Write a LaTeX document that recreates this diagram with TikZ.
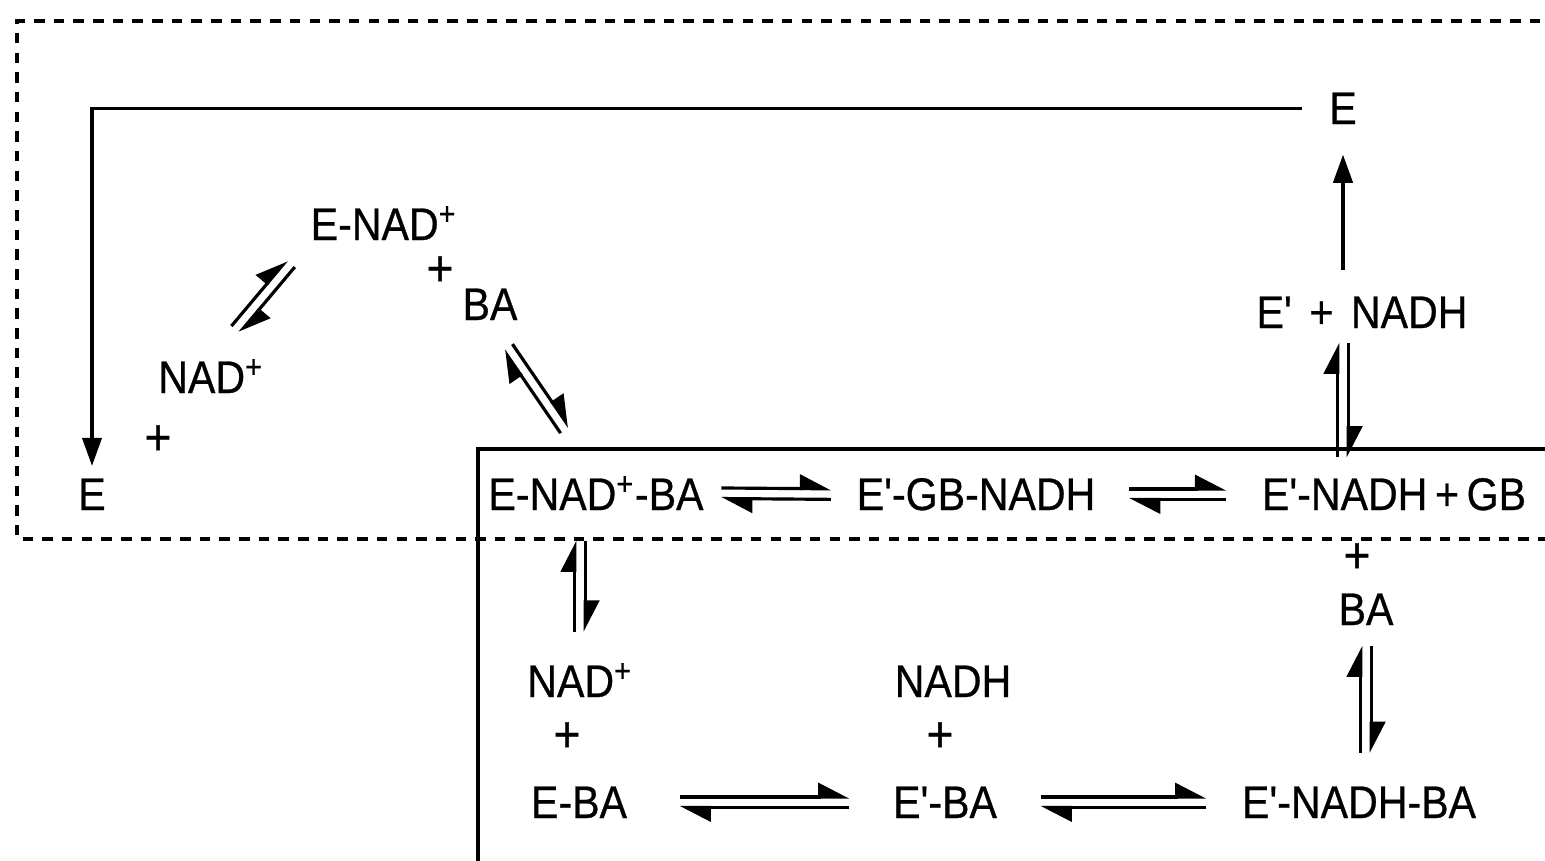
\documentclass[tikz,border=0pt]{standalone}
\usepackage{fontspec}
\setmainfont{Liberation Sans}[FakeStretch=0.9,FakeBold=0.6,Ligatures=TeXOff]
\usetikzlibrary{arrows.meta,calc}
\newcommand\eqsep{1.5pt}
\newcommand\eqm[4]{%
  \draw[harp,shorten <=#3,shorten >=#4]($(#1)!\eqsep!90:(#2)$)--($(#2)!\eqsep!-90:(#1)$);
  \draw[harp,shorten <=#4,shorten >=#3]($(#2)!\eqsep!90:(#1)$)--($(#1)!\eqsep!-90:(#2)$);}
\tikzset{
  chem/.style={inner sep=0pt,anchor=base,font=\fontsize{13}{15}\selectfont},
  pl/.style={inner sep=0pt,font=\fontsize{14.5}{17}\selectfont},
  harp/.style={line width=0.9pt,-{Triangle[harpoon,length=8pt,width=8pt]}},
  arr/.style={line width=0.9pt,-{Triangle[length=8pt,width=5.5pt]}}
}
\begin{document}
\begin{tikzpicture}
  \clip(0,0)rectangle(15.45,-8.6);
  \draw[line width=1pt,dash pattern=on 3pt off 2.6pt](15.6,-0.21)--(0.17,-0.21)--(0.17,-5.39)--(15.6,-5.39);
  \draw[line width=1.2pt](15.6,-4.49)--(4.78,-4.49)--(4.78,-8.8);
  \node[chem](etop)at(13.43,-1.24){E};
  \node[chem](enad)at(3.84,-2.40){E-NAD\textsuperscript{+}};
  \node[pl](pa)at(4.40,-2.71){+};
  \node[chem](ba1)at(4.90,-3.20){BA};
  \node[chem](nad1)at(2.11,-3.93){NAD\textsuperscript{+}};
  \node[pl](pb)at(1.58,-4.40){+};
  \node[chem](eleft)at(0.92,-5.10){E};
  \node[chem](enadba)at(5.96,-5.10){E-NAD\textsuperscript{+}-BA};
  \node[chem](egbnadh)at(9.76,-5.10){E'-GB-NADH};
  \node[chem](enadhgb)at(13.94,-5.10){E'-NADH\,+\,GB};
  \node[chem](eprnadh)at(13.62,-3.28){E'\hspace{5pt}+\hspace{5pt}NADH};
  \node[pl](pc)at(13.57,-5.58){+};
  \node[chem](ba2)at(13.66,-6.25){BA};
  \node[chem](nad2)at(5.80,-6.97){NAD\textsuperscript{+}};
  \node[pl](pd)at(5.67,-7.37){+};
  \node[chem](eba)at(5.79,-8.18){E-BA};
  \node[chem](nadh)at(9.53,-6.97){NADH};
  \node[pl](pe)at(9.40,-7.37){+};
  \node[chem](eprba)at(9.45,-8.18){E'-BA};
  \node[chem](enadhba)at(13.59,-8.18){E'-NADH-BA};
  \draw[arr,shorten <=0.27cm,shorten >=0.12cm](etop.west)-|(eleft.north);
  \draw[arr,shorten <=0.26cm,shorten >=0.3cm](etop.south |- eprnadh.north)--(etop.south);
  \eqm{nad1.north}{enad.south west}{0.38cm}{0.30cm}
  \eqm{enadba.north}{ba1.south}{0.55cm}{0.32cm}
  \eqm{nad2.north}{nad2.north |- enadba.south}{0.31cm}{0.30cm}
  \eqm{etop.south |- enadhgb.north}{etop.south |- eprnadh.south}{0.2cm}{0.14cm}
  \eqm{ba2.south |- enadhba.north}{ba2.south}{0.33cm}{0.2cm}
  \eqm{enadba.east}{egbnadh.west}{0.17cm}{0.25cm}
  \eqm{egbnadh.east}{enadhgb.west}{0.33cm}{0.35cm}
  \eqm{eba.east}{eprba.west}{0.52cm}{0.43cm}
  \eqm{eprba.east}{enadhba.west}{0.43cm}{0.35cm}
\end{tikzpicture}
\end{document}
